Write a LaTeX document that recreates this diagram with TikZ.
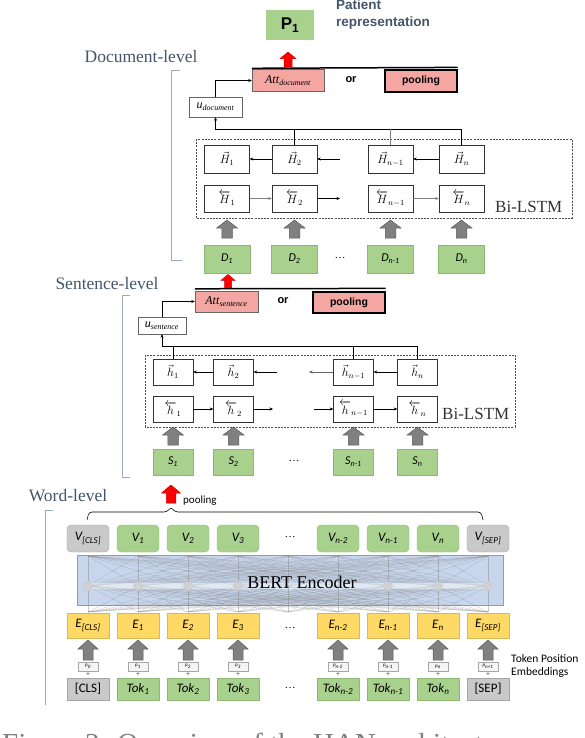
\documentclass[tikz,border=0pt]{standalone}
\usepackage{amsmath}
\usepackage{fontspec}
\setmainfont{Liberation Serif}
\setsansfont{Liberation Sans}
\newfontfamily\calib{Carlito}
\usepackage{tikz}
\usetikzlibrary{arrows.meta,positioning,calc}
\definecolor{boxgreen}{HTML}{A9D18E}
\definecolor{greenline}{HTML}{8DB873}
\definecolor{boxgray}{HTML}{C9C9C9}
\definecolor{grayline}{HTML}{A5A5A5}
\definecolor{boxpink}{HTML}{F4A6A2}
\definecolor{boxyellow}{HTML}{FFD966}
\definecolor{bertblue}{HTML}{C7D6EC}
\definecolor{bertline}{HTML}{7F9FD3}
\definecolor{lblblue}{HTML}{44546A}
\definecolor{brackc}{HTML}{9AAAC4}

\begin{document}
\begin{tikzpicture}[
  x=1pt, y=-1pt, >={Stealth[length=3.5pt,width=3pt]},
  font=\fontsize{11}{13}\selectfont,
  lvl/.style={font=\fontsize{17.5}{20}\selectfont, text=lblblue, inner sep=0pt},
  bilbl/.style={font=\fontsize{17}{20}\selectfont, text=black!80, inner sep=0pt, anchor=west},
  hbox/.style={draw=black!80, fill=white, minimum height=26pt, inner sep=0pt, font=\fontsize{12}{14}\selectfont},
  inbox/.style={draw=greenline, fill=boxgreen, minimum height=27pt, inner sep=0pt, font=\calib\itshape\fontsize{12}{14}\selectfont},
  att/.style={draw=black!60, fill=boxpink, minimum height=22pt, minimum width=72pt, inner sep=0pt, font=\fontsize{12}{14}\selectfont},
  pool/.style={att, draw=black, line width=1.2pt, font=\sffamily\bfseries\fontsize{10.5}{12}\selectfont},
  ubox/.style={draw=black!60, fill=white, inner sep=0pt, font=\fontsize{12}{14}\selectfont},
  orlbl/.style={font=\sffamily\bfseries\fontsize{11}{13}\selectfont},
  lstm/.style={draw=black!70, dash pattern=on 2pt off 1.2pt},
  pics/blockup/.style 2 args={code={
    \path[pic actions] ({-#1/4},{#2/2}) -- ({-#1/4},{-#2/20}) -- ({-#1/2},{-#2/20})
      -- (0,{-#2/2}) -- ({#1/2},{-#2/20}) -- ({#1/4},{-#2/20}) -- ({#1/4},{#2/2}) -- cycle;
  }},
  garrow/.style={draw=black!65, fill=black!50, line width=0.5pt},
  rarrow/.style={draw=red!80!black, fill=red, line width=0.5pt},
  brack/.style={draw=brackc, line width=0.8pt},
  vbox/.style={draw=greenline, fill=boxgreen, rounded corners=4pt, minimum width=42pt, minimum height=27pt, inner sep=0pt, font=\calib\itshape\fontsize{13}{15}\selectfont},
  ebox/.style={draw=boxyellow!85!black, fill=boxyellow, minimum width=42pt, minimum height=25pt, inner sep=0pt, font=\calib\itshape\fontsize{13}{15}\selectfont},
  pbox/.style={draw=black!35, fill=black!4, minimum width=20pt, minimum height=9pt, inner sep=0pt, font=\calib\itshape\fontsize{5}{6}\selectfont},
  tokbox/.style={draw=greenline, fill=boxgreen, minimum width=42pt, minimum height=22pt, inner sep=0pt, font=\calib\itshape\fontsize{13}{15}\selectfont},
  netline/.style={draw=black!45, line width=0.3pt, opacity=0.5},
]
\useasboundingbox (0,0) rectangle (584,738);

% document level
\node[fill=boxgreen, minimum width=48pt, minimum height=30pt, inner sep=0pt, font=\sffamily\bfseries\fontsize{17}{19}\selectfont] (p1) at (290,25) {P\textsubscript{1}};
\node[anchor=west, align=left, inner sep=0pt, text=lblblue, font=\sffamily\bfseries\fontsize{13.5}{17}\selectfont] (prep) at (336,15) {Patient\\representation};
\pic[rarrow] (rdoc) at (288,59.5) {blockup={16}{15}};
\node[lvl] (doclvl) at (141,57) {Document-level};
\node[att] (attdoc) at (288,80.5) {\textit{Att}\textsubscript{\itshape document}};
\node[orlbl] (ordoc) at (351,80) {or};
\node[pool] (pooldoc) at (421,81) {pooling};
\draw[line width=1.5pt] ($(attdoc.north west)+(0,-1)$) -- ($(pooldoc.north east)+(0,-2)$);
\node[ubox, minimum width=53pt, minimum height=20pt] (udoc) at (215.5,107) {\textit{u}\textsubscript{\itshape document}};

\foreach \x/\s [count=\k] in {227/1, 294.5/2, 390.5/{n-1}, 461.5/n} {
  \node[hbox, minimum width=45pt, minimum height=28pt] (Hf\k) at (\x,159) {$\vec{H}_{\s}$};
  \node[hbox, minimum width=45pt, minimum height=27pt] (Hb\k) at (\x,198.5) {$\overleftarrow{H}_{\s}$};
  \pic[garrow] (gd\k) at (\x,229) {blockup={21}{18}};
  \node[inbox, minimum width=46pt, minimum height=28pt] (D\k) at (\x,259) {D\textsubscript{\s}};
}
\node (ddots) at (340,258) {\dots};
\draw[lstm] (196,139) rectangle (572,218);
\node[bilbl] (bidoc) at (495,207) {Bi-LSTM};

\coordinate (hfdoc) at (340,159);
\coordinate (hbdoc) at (340,198.5);
\draw[->] (Hf2.west) -- (Hf1.east);
\draw[->] (hfdoc) -- (Hf2.east);
\draw[->] (Hf4.west) -- (Hf3.east);
\draw[->, black!50] (Hb1.east) -- (Hb2.west);
\draw[->] (Hb2.east) -- (hbdoc);
\draw[->, black!50] (Hb3.east) -- (Hb4.west);

\coordinate (cdoc) at (215.5,129);
\draw[->] (Hf4.north) |- (cdoc) -- (udoc.south);
\draw (Hf2.north) -- (Hf2.north |- cdoc);
\draw[black!50] (Hf3.north) -- (Hf3.north |- cdoc);
\draw[->] (udoc.north) |- (attdoc.west);
\draw[brack] (180,70) -- (171,70) -- (171,260) -- (182,260);

% sentence level
\pic[rarrow] (rsen) at (228,281) {blockup={14}{13}};
\node[lvl] (senlvl) at (107,284) {Sentence-level};
\node[att, minimum width=63pt, minimum height=21pt] (attsen) at (226.5,301.5) {\textit{Att}\textsubscript{\itshape sentence}};
\node[orlbl] (orsen) at (283,301) {or};
\node[pool, minimum height=21pt] (poolsen) at (349,302.5) {pooling};
\draw[line width=1.5pt] ($(attsen.north west)+(0,-2)$) -- ($(poolsen.north east)+(0,-3)$);
\node[ubox, minimum width=48pt, minimum height=17pt] (usen) at (162,325.5) {\textit{u}\textsubscript{\itshape sentence}};

\foreach \x/\s [count=\k] in {173/1, 233.5/2, 353.5/{n-1}, 417.5/n} {
  \node[hbox, minimum width=40pt] (hf\k) at (\x,372) {$\vec{h}_{\s}$};
  \node[hbox, minimum width=40pt] (hb\k) at (\x,409) {$\overleftarrow{h}_{\s}$};
  \pic[garrow] (gs\k) at (\x,436) {blockup={21}{18}};
  \node[inbox, minimum width=40pt, minimum height=26pt] (S\k) at (\x,462) {S\textsubscript{\s}};
}
\node (sdots) at (294,461) {\dots};
\draw[lstm] (145,355) rectangle (515,427);
\node[bilbl] (bisen) at (442,414) {Bi-LSTM};

\coordinate (hfa) at (277,372);
\coordinate (hfb) at (309,372);
\coordinate (hba) at (273,409);
\coordinate (hbb) at (314,409);
\draw[->] (hf2.west) -- (hf1.east);
\draw[->] (hfa) -- (hf2.east);
\draw[->, black!60] (hf3.west) -- (hfb);
\draw[->] (hf4.west) -- (hf3.east);
\draw[->] (hb1.east) -- (hb2.west);
\draw[->] (hb2.east) -- (hba);
\draw[->] (hbb) -- (hb3.west);
\draw[->] (hb3.east) -- (hb4.west);

\coordinate (csen) at (162,346);
\draw[->] (hf4.north) |- (csen) -- (usen.south);
\draw (hf1.north) -- (hf1.north |- csen);
\draw (hf3.north) -- (hf3.north |- csen);
\draw[->] (usen.north) |- (attsen.west);
\draw[brack] (130,295) -- (122,295) -- (122,477) -- (130,477);

% word level
\pic[rarrow] (rword) at (171,494) {blockup={19}{18}};
\node[anchor=west, inner sep=0pt, font=\calib\fontsize{11}{13}\selectfont] (wpool) at (183,501) {pooling};
\node[lvl] (wordlvl) at (68,496) {Word-level};
\draw[brack] (53,510) -- (45,510) -- (45,705);
\draw[line width=0.6pt, rounded corners=3pt] (87,520) -- (89,512) -- (167,512) -- (171,507) -- (175,512) -- (481,512) -- (483,520);

\node[draw=bertline, fill=bertblue, minimum width=426pt, minimum height=50pt, inner sep=0pt] (bert) at (290,580) {};
\foreach \i in {0,...,8} \foreach \j in {0,...,8} {
  \draw[netline] ({88+50*\i},556) -- ({88+50*\j},586);
  \draw[netline] ({88+50*\i},586) -- ({88+50*\j},612);
}
\draw[line width=6pt, white, opacity=0.45, line cap=round] (88,586) -- (490,586);
\foreach \k in {0,1,2,3,6,7,8}
  \node[circle, fill=black!18, draw=black!22, minimum size=9pt, inner sep=0pt] (hid\k) at ({88+50*\k},586) {};
\node[font=\fontsize{18}{20}\selectfont] (bertlbl) at (302,582) {BERT Encoder};

\foreach \k/\s in {1/1, 2/2, 3/3, 5/{n-2}, 6/{n-1}, 7/n} {
  \node[vbox] (v\k) at ({88+50*\k},538.5) {V\textsubscript{\s}};
  \node[tokbox] (t\k) at ({88+50*\k},689) {Tok\textsubscript{\s}};
}
\foreach \k/\s in {0/{[CLS]}, 8/{[SEP]}} {
  \node[vbox, draw=grayline, fill=boxgray] (v\k) at ({88+50*\k},538.5) {V\textsubscript{\s}};
  \node[tokbox, draw=grayline, fill=boxgray, font=\calib\fontsize{13}{15}\selectfont] (t\k) at ({88+50*\k},689) {\s};
}
\foreach \k/\s/\q in {0/{[CLS]}/0, 1/1/1, 2/2/2, 3/3/3, 5/{n-2}/{n-2}, 6/{n-1}/{n-1}, 7/n/n, 8/{[SEP]}/{n+1}} {
  \node[ebox] (e\k) at ({88+50*\k},625.5) {E\textsubscript{\s}};
  \pic[garrow] (gw\k) at ({88+50*\k},650) {blockup={20}{20}};
  \node[pbox] (pe\k) at ({88+50*\k},666.5) {p\textsubscript{\q}};
  \node[inner sep=0pt, font=\fontsize{7}{8}\selectfont] (plus\k) at ({88+50*\k},675) {+};
}
\node (vdots) at (290,537) {\dots};
\node (edots) at (290,628) {\dots};
\node (tdots) at (290,688) {\dots};
\node[anchor=west, align=left, inner sep=0pt, font=\calib\fontsize{11.5}{13}\selectfont] (tpe) at (511,666) {Token Position\\Embeddings};

\begin{scope}
\clip (0,0) rectangle (584,738);
\node[anchor=base west, inner sep=0pt, text=black!50, font=\fontsize{29}{33}\selectfont] (caption) at (2,753) {Figure 2: Overview of the HAN architecture};
\end{scope}
\end{tikzpicture}
\end{document}
